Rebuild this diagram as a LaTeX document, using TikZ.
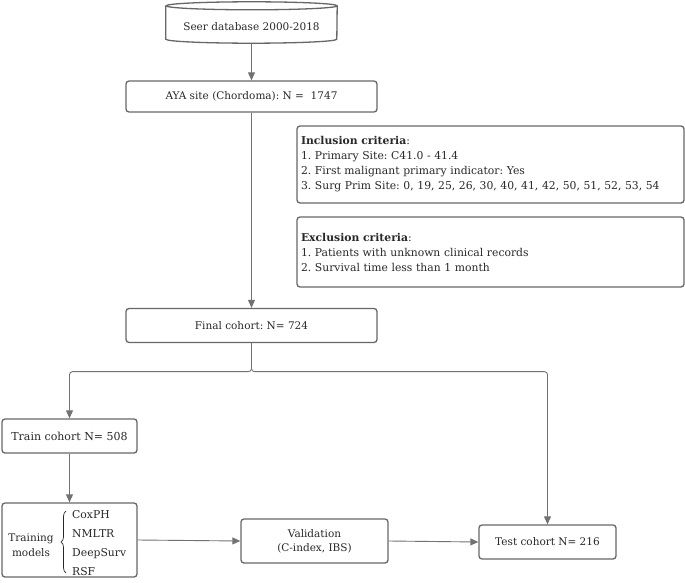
\documentclass[tikz,border=0pt]{standalone}
\usepackage{fontspec}
\setmainfont{DejaVu Serif}
\usetikzlibrary{positioning}
\usetikzlibrary{arrows.meta}
\usetikzlibrary{decorations.pathreplacing}
\definecolor{boxgray}{HTML}{676767}
\definecolor{linegray}{HTML}{727272}
\definecolor{textgray}{HTML}{282828}
\frenchspacing
\tikzset{
	every node/.style={align=center,text=textgray,font=\fontsize{10.5}{14}\selectfont},
	stagebox/.style={draw=boxgray,line width=1.3pt,rounded corners=3pt,fill=white,inner sep=2pt},
	critbox/.style={stagebox,minimum width=387pt,text width=379pt,align=left,
		font=\fontsize{10.8}{15}\selectfont},
	flow/.style={draw=linegray,line width=0.9pt,rounded corners=3pt},
	>={Triangle[length=8pt,width=7pt]},
}

\begin{document}
\begin{tikzpicture}[x=1pt,y=-1pt]
			\useasboundingbox (0,0) rectangle (685,583);
			
			% database.....................
			\node [minimum width=171pt,minimum height=33pt,inner sep=0pt] (seer) at (251.5,26.5) {Seer database 2000-2018};
			\draw [draw=boxgray,line width=1.3pt] ([yshift=4pt]seer.north west) -- ([yshift=4pt]seer.south west)
				arc [start angle=180,end angle=360,x radius=85.5pt,y radius=4pt] -- ([yshift=4pt]seer.north east)
				arc [start angle=0,end angle=360,x radius=85.5pt,y radius=4pt];
			
			% cohort boxes.................
			\node [stagebox,minimum width=251pt,minimum height=31pt] (aya) at (251.5,96.5) {AYA site (Chordoma): N =\ \ 1747};
			\node [stagebox,minimum width=251pt,minimum height=34pt] (final) at (251.5,325.5) {Final cohort: N= 724};
			\node [stagebox,minimum width=135pt,minimum height=34pt,font=\fontsize{11}{14}\selectfont] (train) at (69.5,436) {Train cohort N= 508};
			\node [stagebox,minimum width=137pt,minimum height=34pt] (test) at (547.5,542) {Test cohort N= 216};
			
			% criteria.....................
			\node [critbox,minimum height=77pt] (incl) at (490.5,164.5) {\textbf{Inclusion criteria}:\\
				1. Primary Site: C41.0 - 41.4\\
				2. First malignant primary indicator: Yes\\
				3. Surg Prim Site: 0, 19, 25, 26, 30, 40, 41, 42, 50, 51, 52, 53, 54};
			\node [critbox,minimum height=70pt] (excl) at (490.5,252) {\textbf{Exclusion criteria}:\\
				1. Patients with unknown clinical records\\
				2. Survival time less than 1 month};
			
			% models and validation........
			\node [stagebox,minimum width=135pt,minimum height=74pt] (models) at (69.5,540) {};
			\node [inner sep=0pt,font=\fontsize{10.5}{15}\selectfont] (trainlbl) at (31,545) {Training\\models};
			\node [inner sep=0pt,anchor=west,align=left,font=\fontsize{10.8}{19}\selectfont] (modlist) at (72,543)
				{CoxPH\\NMLTR\\DeepSurv\\RSF};
			\draw [draw=textgray,line width=0.7pt,decorate,decoration={brace,amplitude=5pt}]
				([xshift=-6pt,yshift=3pt]modlist.south west) -- ([xshift=-6pt,yshift=-1pt]modlist.north west);
			\node [stagebox,minimum width=147pt,minimum height=44pt] (valid) at (314.5,541) {Validation\\(C-index, IBS)};
			
			% connectors...................
			\draw [flow,->] (seer.south) -- (aya.north);
			\draw [flow,->] (aya.south) -- (final.north);
			\draw [flow,->] (final.south) -- ++(0,28.5) -| (train.north);
			\draw [flow,->] (final.south) -- ++(0,28.5) -| (test.north);
			\draw [flow,->] (train.south) -- (models.north);
			\draw [flow,->] (models.east) -- (valid.west);
			\draw [flow,->] (valid.east) -- (test.west);
		\end{tikzpicture}
\end{document}
